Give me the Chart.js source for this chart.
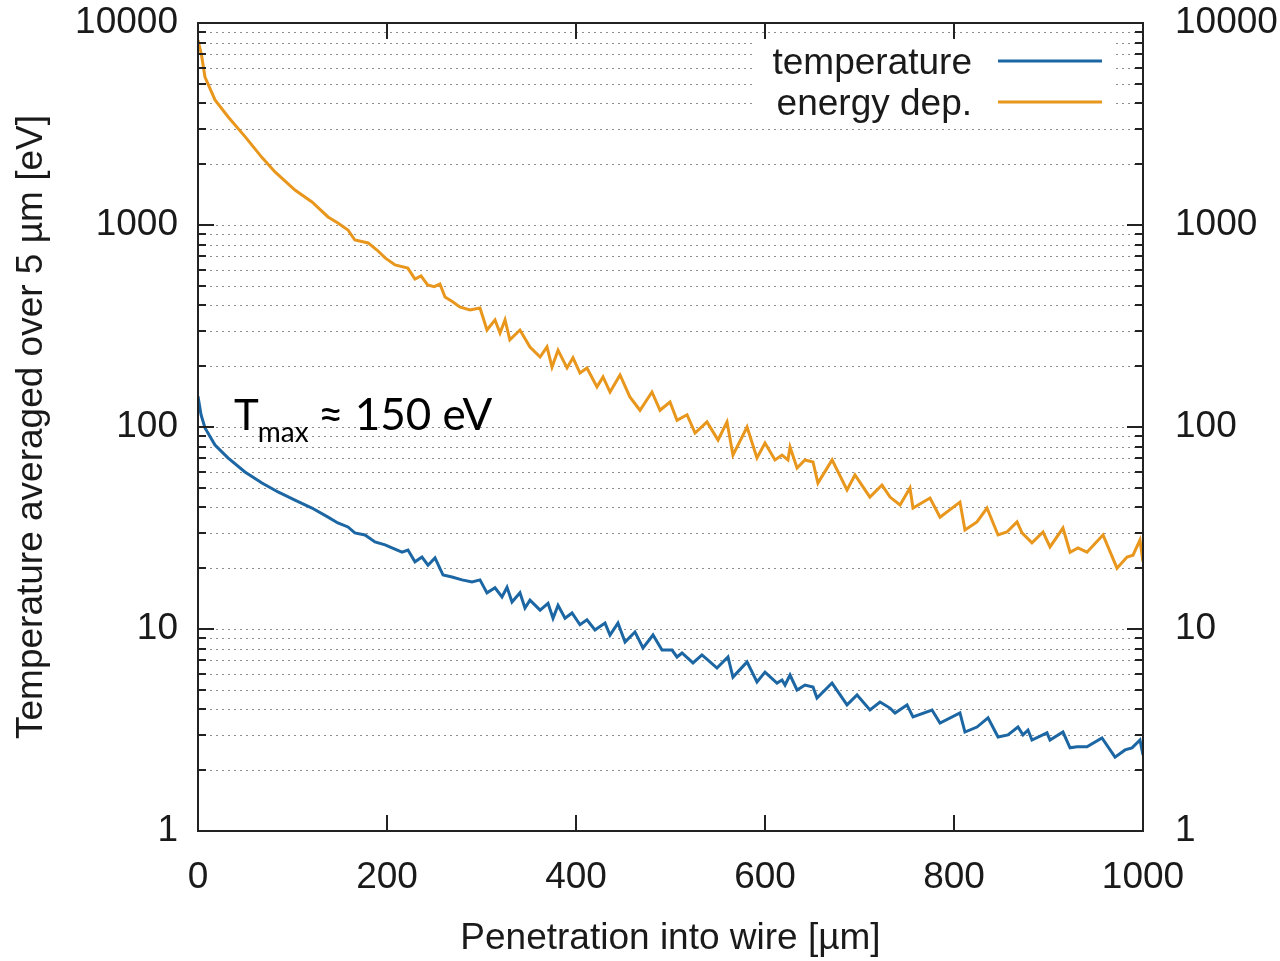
<!DOCTYPE html>
<html>
<head>
<meta charset="utf-8">
<script src="https://cdn.jsdelivr.net/npm/chart.js@4.4.1/dist/chart.umd.min.js"></script>
<style>
html,body{margin:0;padding:0;background:#fff;}
canvas{display:block;}
</style>
</head>
<body>
<canvas id="c" width="1280" height="961"></canvas>
<script>
// ---- data ----
const depthE = [0,3.7,7.4,18,32,50,68,81.5,102.6,120.6,137.6,148,158.7,166,180,189.4,198,208.5,222,229.6,236,243,250,256,261.4,269.8,277,287.8,298.4,305.8,314.3,319.6,324.9,330,340.7,351.3,362,369.3,374.6,381,390.5,396.8,404.2,411.6,422.2,428.6,436,446.6,457,467.7,480.4,488.9,499.5,506.9,517.5,526,538.6,550.3,559.8,566.1,581,591.5,600,610.6,618,624.3,626.5,633.9,642.3,650.8,656,671,686.8,695.2,711,723.8,732.3,742.9,753.4,756.6,774.6,785.2,806.3,811.6,824.3,834.9,846.6,856,866.7,872,882.5,894.2,901.6,915.3,922.8,931.2,940.7,957.7,972.5,983.1,989.4,996.8,1000];
const energyDep = [8240,6950,5400,4160,3425,2730,2150,1830,1490,1300,1096,1023,945,843,815,752,687,634,612,540,560,505,495,510,440,416,393,380,388,302,339,292,339,270,302,249,222,249,198,240,196,220,185,196,158,177,149,181,141,121,149,121,133,108,115,93.4,106,86.2,106,72.6,100,70.3,83.3,68.7,72.6,68.7,79.6,62.7,68.7,67.1,52.8,68.7,48.8,57.9,45.0,51.6,45.0,41.1,49.9,39.7,44.5,35.8,42.5,30.9,33.9,39.7,29.2,30.2,33.9,29.9,26.7,30.2,25.5,31.6,24.0,25.2,24.0,29.2,20.0,22.7,23.2,27.6,21.5];
const depthT = [0,3.2,7.4,18,31.7,49.7,67.7,84.7,102.6,120.6,137.6,148,158.7,166,176.7,187.3,198,205.3,215.9,222.2,229.6,237,243.4,250.8,259.3,268.8,279.4,290,298.4,305.8,314.3,321.7,327,332.3,340.7,346,351.3,362,370.4,375.7,381,388.4,395.8,404.2,411.6,420.1,430.7,436,444.4,451.9,462.4,470.9,481.5,491,501.6,506.9,512.2,523.8,533.3,539.7,549.2,560.8,566.1,581,591.5,600,612.7,618,621.2,626.5,633.9,642.3,650.8,655,670.9,686.8,697.4,711.1,721.7,732.3,737.6,750.3,756.6,776.7,785.2,806.3,811.6,824.3,836,846.6,857.1,867.7,873,878.3,882.5,898.4,901.6,915.3,922.8,930.2,940.7,956.6,970.4,981,988.4,996.8,1000];
const temperature = [142,115,98.9,81.4,70.3,59.9,52.8,47.7,43.5,39.7,35.8,33.5,32.0,29.9,29.2,27.0,26.1,25.2,24.0,24.6,21.5,22.7,20.7,22.5,18.5,18.1,17.5,17.1,17.5,15.1,16.0,14.4,16.1,13.6,15.1,12.7,13.9,12.4,13.4,11.3,13.1,11.3,12.0,10.5,11.1,9.89,10.7,9.34,10.7,8.62,9.67,8.05,9.34,7.87,7.87,7.27,7.61,6.79,7.44,7.02,6.41,7.27,5.78,6.87,5.47,6.12,5.40,5.59,5.28,5.92,4.99,5.28,5.16,4.55,5.40,4.21,4.71,3.97,4.35,4.06,3.84,4.21,3.67,3.97,3.42,3.84,3.09,3.27,3.63,2.92,2.99,3.27,2.99,3.16,2.82,3.06,2.82,3.09,2.58,2.61,2.61,2.89,2.32,2.52,2.58,2.82,2.38];
const xTicks = [0,200,400,600,800,1000];
const yTicks = [1,10,100,1000,10000];
const seriesLabels = ['temperature','energy dep.'];
const xTitle = 'Penetration into wire [µm]';
const yTitle = 'Temperature averaged over 5 µm [eV]';
const annotationMain = 'T';
const annotationSub = 'max';
const annotationRest = ' ≈ 150 eV';

// ---- styles ----
const FONT = '"Liberation Sans", Arial, sans-serif';
const FS = 37;
const TXT = '#1a1a1a';
const BLUE = '#1b66a3';
const ORANGE = '#e8961c';

const toXY = (xs, ys) => xs.map((x, i) => ({x: x, y: ys[i]}));

const framePlugin = {
  id: 'frame',
  beforeDatasetsDraw(chart) {
    const {ctx, chartArea: a, scales: {y}} = chart;
    ctx.save();
    ctx.strokeStyle = '#8e8e8e';
    ctx.lineWidth = 1;
    ctx.setLineDash([2, 4]);
    for (let d = 1; d < 10000; d *= 10) {
      for (let m = 1; m <= 9; m++) {
        const v = m * d;
        if (v === 1) continue;
        const py = Math.round(y.getPixelForValue(v)) + 0.5;
        ctx.beginPath(); ctx.moveTo(a.left, py); ctx.lineTo(a.right, py); ctx.stroke();
      }
    }
    ctx.setLineDash([]);
    // legend background
    ctx.fillStyle = '#fff';
    ctx.fillRect(a.right - 391, a.top + 15, 360, 84);
    ctx.restore();
  },
  afterDatasetsDraw(chart) {
    const {ctx, chartArea: a, scales: {x, y}} = chart;
    ctx.save();
    ctx.strokeStyle = '#222';
    ctx.lineWidth = 2;
    // ticks
    ctx.beginPath();
    for (let d = 1; d < 10000; d *= 10) {
      for (let m = 1; m <= 9; m++) {
        const v = m * d;
        const len = (m === 1) ? 16 : 8;
        const py = Math.round(y.getPixelForValue(v));
        ctx.moveTo(a.left, py); ctx.lineTo(a.left + len, py);
        ctx.moveTo(a.right, py); ctx.lineTo(a.right - len, py);
      }
    }
    xTicks.forEach(v => {
      const px = Math.round(x.getPixelForValue(v));
      ctx.moveTo(px, a.bottom); ctx.lineTo(px, a.bottom - 16);
      ctx.moveTo(px, a.top); ctx.lineTo(px, a.top + 16);
    });
    ctx.stroke();
    // border
    ctx.strokeRect(a.left, a.top, a.right - a.left, a.bottom - a.top);

    // legend
    ctx.font = FS + 'px ' + FONT;
    ctx.fillStyle = TXT;
    ctx.textAlign = 'right';
    ctx.textBaseline = 'middle';
    const ds = chart.data.datasets;
    const rows = [a.top + 40, a.top + 81];
    ds.forEach((d, i) => {
      ctx.fillText(d.label, a.right - 171, rows[i] + 1);
      ctx.strokeStyle = d.borderColor;
      ctx.lineWidth = 3;
      ctx.beginPath();
      ctx.moveTo(a.right - 145, rows[i] - 2);
      ctx.lineTo(a.right - 41, rows[i] - 2);
      ctx.stroke();
    });

    // annotation
    ctx.textAlign = 'left';
    ctx.textBaseline = 'alphabetic';
    ctx.fillStyle = '#000';
    const ax = a.left + 36, ay = a.top + 407;
    ctx.font = '42px Lato, "Open Sans", sans-serif';
    ctx.fillText(annotationMain, ax, ay);
    let w = ctx.measureText(annotationMain).width;
    ctx.font = '28px Lato, "Open Sans", sans-serif';
    ctx.fillText(annotationSub, ax + w - 1, ay + 12);
    w += ctx.measureText(annotationSub).width - 3;
    ctx.font = '44px Lato, "Open Sans", sans-serif';
    ctx.fillText(annotationRest, ax + w, ay);
    ctx.restore();
  }
};

const logAxis = (pos, pad, width) => ({
  type: 'logarithmic',
  position: pos,
  min: 1,
  max: 10000,
  afterBuildTicks: s => { s.ticks = yTicks.map(v => ({value: v})); },
  afterFit: s => { s.width = width; s.paddingTop = 0; s.paddingBottom = 0; },
  grid: {display: false, drawTicks: false},
  border: {display: false},
  ticks: {
    font: {family: FONT, size: FS},
    color: TXT,
    padding: pad,
    autoSkip: false,
    callback: v => String(v)
  }
});

const yLeft = logAxis('left', 20, 198);
yLeft.title = {display: true, text: yTitle, color: TXT, font: {family: FONT, size: FS}, padding: {top: 10, bottom: 0}};
const yRight = logAxis('right', 32, 137);

new Chart(document.getElementById('c'), {
  type: 'line',
  data: {
    datasets: [
      {label: seriesLabels[0], data: toXY(depthT, temperature), borderColor: BLUE, borderWidth: 3, pointRadius: 0, tension: 0, fill: false},
      {label: seriesLabels[1], data: toXY(depthE, energyDep), borderColor: ORANGE, borderWidth: 3, pointRadius: 0, tension: 0, fill: false}
    ]
  },
  options: {
    responsive: false,
    animation: false,
    layout: {padding: {top: 23, left: 0, right: 0, bottom: 0}},
    plugins: {legend: {display: false}, tooltip: {enabled: false}},
    scales: {
      x: {
        type: 'linear',
        min: 0,
        max: 1000,
        afterBuildTicks: s => { s.ticks = xTicks.map(v => ({value: v})); },
        afterFit: s => { s.height = 130; s.paddingLeft = 0; s.paddingRight = 0; },
        grid: {display: false, drawTicks: false},
        border: {display: false},
        ticks: {font: {family: FONT, size: FS}, color: TXT, padding: 25, maxRotation: 0, autoSkip: false, callback: v => String(v)},
        title: {display: true, text: xTitle, color: TXT, font: {family: FONT, size: FS}, padding: {top: 0, bottom: 0}}
      },
      y: yLeft,
      y2: yRight
    }
  },
  plugins: [framePlugin]
});
</script>
</body>
</html>
